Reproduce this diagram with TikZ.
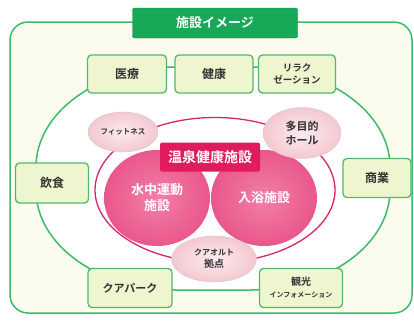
\documentclass[tikz,border=0pt]{standalone}
\usepackage{fontspec}
\newfontfamily\jp{Noto Sans CJK JP}[BoldFont={Noto Sans CJK JP Bold}]
\usetikzlibrary{shapes.geometric}

\definecolor{framecream}{HTML}{FBFCEE}
\definecolor{loopgreen}{HTML}{3EBA6A}
\definecolor{titlegreen}{HTML}{17A858}
\definecolor{boxfill}{HTML}{EEF6CF}
\definecolor{boxdraw}{HTML}{52B96A}
\definecolor{ringpink}{HTML}{D72668}
\definecolor{bannerpink}{HTML}{E01B5E}
\definecolor{bigpink}{HTML}{E9578B}
\definecolor{bigpinklight}{HTML}{F27FA7}
\definecolor{smallpink}{HTML}{F4C8D0}
\definecolor{smallpinklight}{HTML}{FCEBEE}
\definecolor{textgray}{HTML}{333333}

\begin{document}
\begin{tikzpicture}[
    x=1pt, y=-1pt,
    % Styles
    titlebox/.style={ % Title banner
        rectangle,
        rounded corners=2pt,
        fill=titlegreen,
        draw=titlegreen!80!black,
        text=white,
        font=\jp\bfseries\fontsize{13}{15}\selectfont,
        minimum width=165pt,
        minimum height=30pt
    },
    area/.style={ % Surrounding areas
        rectangle,
        rounded corners=4pt,
        draw=boxdraw,
        line width=1.3pt,
        fill=boxfill,
        text=textgray,
        align=center,
        inner sep=1pt,
        minimum height=38pt,
        font=\jp\bfseries\fontsize{12}{14}\selectfont
    },
    core/.style={ % Main bathing facilities
        ellipse,
        shade,
        inner color=bigpinklight,
        outer color=bigpink,
        text=white,
        align=center,
        inner sep=0pt,
        minimum width=106pt,
        minimum height=96pt,
        font=\jp\bfseries\fontsize{13}{16}\selectfont
    },
    annex/.style={ % Small attached facilities
        ellipse,
        shade,
        inner color=smallpinklight,
        outer color=smallpink,
        draw=gray!40,
        text=textgray,
        align=center,
        inner sep=0pt,
        font=\jp\bfseries\fontsize{10}{12}\selectfont
    },
    banner/.style={ % Central label
        rectangle,
        rounded corners=2pt,
        fill=bannerpink,
        text=white,
        minimum width=100pt,
        minimum height=29pt,
        font=\jp\bfseries\fontsize{14}{16}\selectfont
    }
]
    \useasboundingbox (0,0) rectangle (414,325);

    % Outer frame
    \draw [loopgreen, line width=1.5pt, fill=framecream, rounded corners=18pt]
        (10,22) rectangle (412,313);

    % Green loop through the surrounding areas
    \draw [loopgreen, line width=1.5pt, fill=white]
        (36,190) -- (36,167) .. controls (36,112) and (99,67) .. (176,67)
        -- (250,67) .. controls (327,67) and (390,112) .. (390,167)
        -- (390,190) .. controls (390,245) and (327,290) .. (250,290)
        -- (176,290) .. controls (99,290) and (36,245) .. (36,190) -- cycle;

    % Pink ring round the spa
    \node [ellipse, draw=ringpink, line width=1.3pt, fill=white,
           minimum width=240pt, minimum height=145pt] (ring) at (215,190) {};

    % Title
    \node [titlebox] (title) at (215,23) {施設イメージ};

    % Main facilities
    \node [core] (water) at (157,198) {水中運動\\施設};
    \node [core] (bath) at (264,198) {入浴施設};
    \node [banner] (spa) at (210,157) {温泉健康施設};

    % Attached facilities
    \node [annex, minimum width=70pt, minimum height=40pt,
           font=\jp\bfseries\fontsize{7.5}{9}\selectfont] (fitness) at (123,132) {フィットネス};
    \node [annex, minimum width=78pt, minimum height=51pt,
           font=\jp\bfseries\fontsize{11}{14}\selectfont] (hall) at (302,133) {多目的\\ホール};
    \node [annex, minimum width=85pt, minimum height=46pt] (kurort) at (214,259)
        {{\fontsize{8}{10}\selectfont クアオルト}\\拠点};

    % Surrounding areas
    \node [area, minimum width=79pt] (iryo) at (127,74) {医療};
    \node [area, minimum width=78pt] (kenko) at (214,74) {健康};
    \node [area, minimum width=77pt, font=\jp\bfseries\fontsize{9.5}{12}\selectfont]
        (relax) at (297,74) {リラク\\ゼーション};
    \node [area, minimum width=73pt, minimum height=40pt] (food) at (52,183) {飲食};
    \node [area, minimum width=68pt, minimum height=39pt] (shop) at (377,178) {商業};
    \node [area, minimum width=84pt, minimum height=39pt,
           font=\jp\bfseries\fontsize{11}{13}\selectfont] (park) at (130,288) {クアパーク};
    \node [area, minimum width=83pt, minimum height=39pt,
           font=\jp\bfseries\fontsize{10}{12}\selectfont] (tour) at (301,288)
        {観光\\{\fontsize{7}{9}\selectfont インフォメーション}};
\end{tikzpicture}
\end{document}
